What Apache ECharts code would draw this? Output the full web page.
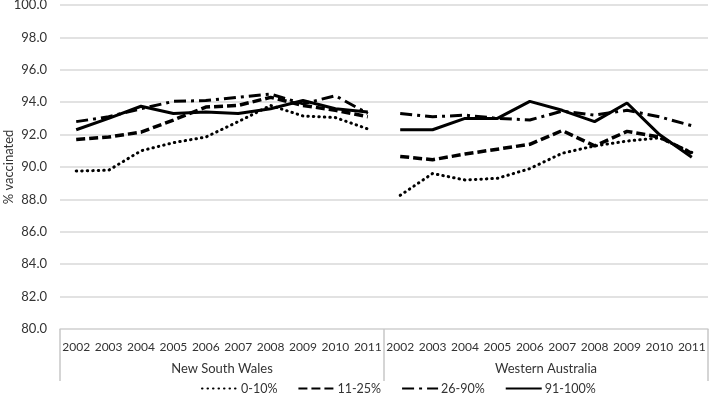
<!DOCTYPE html>
<html>
<head>
<meta charset="utf-8">
<script src="https://cdn.jsdelivr.net/npm/echarts@6/dist/echarts.min.js"></script>
<style>html,body{margin:0;padding:0;background:#fff}#c{width:709px;height:403px}</style>
</head>
<body>
<div id="c"></div>
<script>
const years = ['2002','2003','2004','2005','2006','2007','2008','2009','2010','2011'];
const regions = ['New South Wales','Western Australia'];
const seriesNames = ['0-10%','11-25%','26-90%','91-100%'];
const yTicks = { min: 80, max: 100, interval: 2 };

// New South Wales
const nsw_0_10   = [89.75, 89.8, 91.0, 91.5, 91.85, 92.8, 93.8, 93.15, 93.05, 92.35];
const nsw_11_25  = [91.7, 91.85, 92.15, 92.9, 93.7, 93.8, 94.3, 93.8, 93.5, 93.1];
const nsw_26_90  = [92.8, 93.1, 93.6, 94.05, 94.1, 94.3, 94.5, 93.9, 94.4, 93.3];
const nsw_91_100 = [92.3, 93.0, 93.75, 93.3, 93.4, 93.3, 93.6, 94.1, 93.6, 93.4];

// Western Australia
const wa_0_10   = [88.25, 89.6, 89.2, 89.3, 89.9, 90.85, 91.3, 91.6, 91.8, 90.9];
const wa_11_25  = [90.65, 90.45, 90.8, 91.1, 91.4, 92.25, 91.3, 92.2, 91.85, 90.85];
const wa_26_90  = [93.3, 93.1, 93.2, 93.0, 92.9, 93.45, 93.2, 93.5, 93.1, 92.55];
const wa_91_100 = [92.3, 92.3, 93.0, 93.0, 94.05, 93.5, 92.8, 93.95, 92.0, 90.6];

const nswData = [nsw_0_10, nsw_11_25, nsw_26_90, nsw_91_100];
const waData  = [wa_0_10, wa_11_25, wa_26_90, wa_91_100];

const styles = [
  { width: 3, type: [0.5, 5], cap: 'round' },
  { width: 3.5, type: [9, 4], cap: 'butt' },
  { width: 3, type: [12, 5, 3, 5], cap: 'butt' },
  { width: 3, type: 'solid', cap: 'butt' }
];

const cats = years.concat(years);
const empty = years.map(() => null);
const series = [];
seriesNames.forEach((name, i) => {
  const ls = Object.assign({ color: '#000' }, styles[i]);
  series.push({
    name, type: 'line', data: nswData[i].concat(empty),
    symbol: 'none', lineStyle: ls, itemStyle: { color: '#000' }, silent: true, z: 3 + i
  });
  series.push({
    name, type: 'line', data: empty.concat(waData[i]),
    symbol: 'none', lineStyle: ls, itemStyle: { color: '#000' }, silent: true, z: 3 + i
  });
});

const FONT = 'Lato';
const TXT = '#333';
const chart = echarts.init(document.getElementById('c'), null, { renderer: 'canvas' });
chart.setOption({
  animation: false,
  textStyle: { fontFamily: FONT },
  grid: { left: 60, right: 1, top: 5, bottom: 74, containLabel: false, outerBoundsMode: 'none' },
  legend: {
    data: seriesNames, bottom: 3, left: 196, itemWidth: 36, itemHeight: 12, itemGap: 20,
    itemStyle: { opacity: 0 },
    textStyle: { fontFamily: FONT, fontSize: 12.5, color: TXT, padding: [0, 0, 0, -2] }
  },
  xAxis: [
    {
      type: 'category', data: cats, boundaryGap: true, position: 'bottom',
      axisLine: { show: true, lineStyle: { color: '#d9d9d9', width: 1.5 } },
      axisTick: { show: false },
      axisLabel: { interval: 0, fontFamily: FONT, fontSize: 12, color: TXT, margin: 12 }
    },
    {
      type: 'category', data: regions, boundaryGap: true, position: 'bottom',
      axisLine: { show: false },
      axisTick: { show: true, length: 52, lineStyle: { color: '#c8c8c8', width: 1.5 } },
      axisLabel: { fontFamily: FONT, fontSize: 13, color: TXT, margin: 33 }
    }
  ],
  yAxis: {
    type: 'value', min: yTicks.min, max: yTicks.max, interval: yTicks.interval,
    name: '% vaccinated', nameLocation: 'middle', nameGap: 45, nameRotate: 90,
    nameMoveOverlap: false,
    nameTextStyle: { fontFamily: FONT, fontSize: 13, color: TXT },
    axisLine: { show: false }, axisTick: { show: false },
    axisLabel: { formatter: v => v.toFixed(1), fontFamily: FONT, fontSize: 13, color: TXT, margin: 13 },
    splitLine: { lineStyle: { color: '#d9d9d9', width: 1.5 } }
  },
  series
});
</script>
</body>
</html>
